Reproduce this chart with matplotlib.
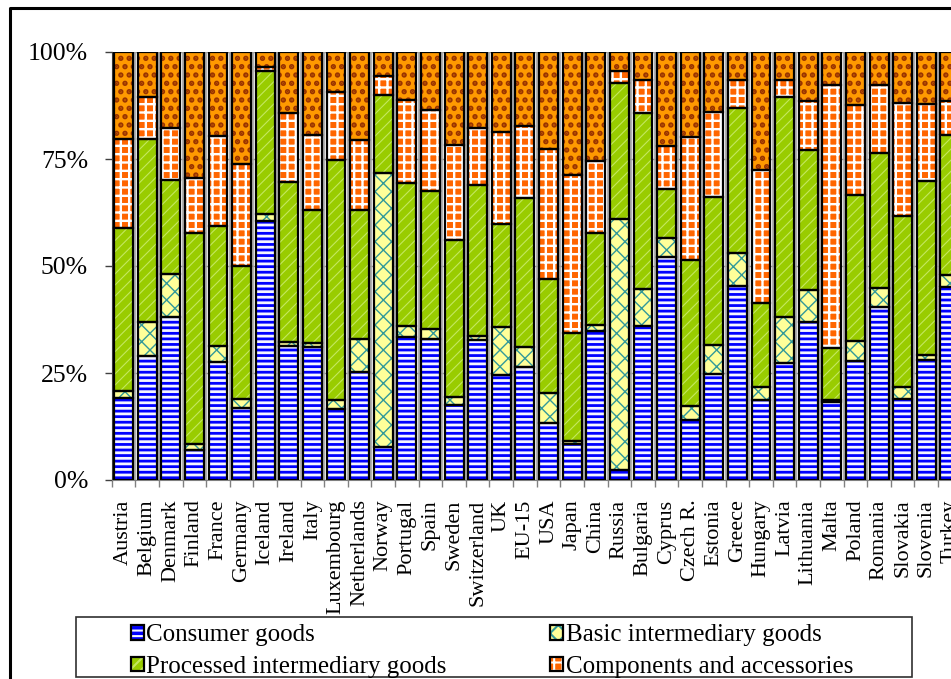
import matplotlib
matplotlib.use('Agg')
import matplotlib.pyplot as plt
from matplotlib.patches import Rectangle
from matplotlib.lines import Line2D
from matplotlib.legend_handler import HandlerTuple
import numpy as np

countries = ["Austria", "Belgium", "Denmark", "Finland", "France", "Germany",
             "Iceland", "Ireland", "Italy", "Luxembourg", "Netherlands", "Norway",
             "Portugal", "Spain", "Sweden", "Switzerland", "UK", "EU-15", "USA",
             "Japan", "China", "Russia", "Bulgaria", "Cyprus", "Czech R.", "Estonia",
             "Greece", "Hungary", "Latvia", "Lithuania", "Malta", "Poland",
             "Romania", "Slovakia", "Slovenia", "Turkey"]

consumer = [19.2, 28.9, 38.0, 6.9, 27.5, 16.8, 60.6, 31.4, 31.0, 16.6, 25.2, 7.6,
            33.5, 33.0, 17.6, 32.7, 24.6, 26.3, 13.3, 8.4, 34.7, 2.3, 35.9, 52.2,
            14.1, 24.8, 45.3, 18.8, 27.4, 36.9, 18.2, 27.9, 40.4, 18.9, 28.1, 45.1]
basic = [1.7, 8.0, 10.2, 1.5, 3.8, 2.1, 1.6, 0.9, 1.0, 2.0, 7.8, 64.2,
         2.4, 2.3, 1.9, 1.0, 11.1, 4.7, 7.0, 0.6, 1.5, 58.6, 8.8, 4.3,
         3.1, 6.8, 7.8, 2.9, 10.6, 7.4, 0.4, 4.5, 4.5, 2.8, 1.1, 2.7]
processed = [37.9, 42.8, 21.8, 49.3, 28.1, 31.1, 33.3, 37.3, 31.0, 56.2, 30.2, 18.1,
             33.5, 32.2, 36.5, 35.3, 24.2, 34.9, 26.7, 25.4, 21.6, 31.9, 41.1, 11.5,
             34.2, 34.5, 33.8, 19.7, 51.5, 32.7, 12.2, 34.2, 31.5, 40.0, 40.6, 32.9]
components = [20.8, 9.8, 12.3, 12.9, 21.0, 23.9, 1.0, 16.1, 17.7, 15.8, 16.3, 4.6,
              19.3, 18.9, 22.3, 13.3, 21.5, 16.8, 30.4, 36.8, 16.7, 2.8, 7.6, 10.0,
              28.7, 19.9, 6.6, 31.1, 3.9, 11.5, 61.6, 21.1, 16.0, 26.4, 18.1, 7.8]
capital = [20.4, 10.5, 17.7, 29.4, 19.6, 26.1, 3.5, 14.3, 19.3, 9.4, 20.5, 5.5,
           11.3, 13.6, 21.7, 17.7, 18.6, 17.3, 22.6, 28.8, 25.5, 4.4, 6.6, 22.0,
           19.9, 14.0, 6.5, 27.5, 6.6, 11.5, 7.6, 12.3, 7.6, 11.9, 12.1, 11.5]

series_labels = ["Consumer goods", "Basic intermediary goods",
                 "Processed intermediary goods", "Components and accessories",
                 "Capital goods"]
y_ticks = [0, 25, 50, 75, 100]
y_ticklabels = ["0%", "25%", "50%", "75%", "100%"]

plt.rcParams['font.family'] = ['Liberation Serif', 'DejaVu Serif']
plt.rcParams['hatch.linewidth'] = 1.5

styles = [
    dict(face='#0000FF', hatch='---', hcol='#F4F4FF', hlw=2.0),
    dict(face='#FFFF99', hatch='xx', hcol='#339999', hlw=1.0),
    dict(face='#99CC00', hatch='///', hcol='#C4E860', hlw=0.8),
    dict(face='#FF6600', hatch='++', hcol='#FFFFFF', hlw=1.7),
    dict(face='#FF9900', hatch='..', hcol='#993300', hlw=2.6),
]

fig = plt.figure(figsize=(9.51, 6.79), dpi=100)
ax = fig.add_axes([111.7 / 951, 1 - 480 / 679, 850 / 951, 428 / 679])

x = np.arange(len(countries))
bottom = np.zeros(len(countries))
handles = []
for vals, lab, st in zip([consumer, basic, processed, components, capital],
                         series_labels, styles):
    vals = np.array(vals)
    b1 = ax.bar(x, vals, 0.8, bottom=bottom, color=st['face'], hatch=st['hatch'],
                edgecolor=st['hcol'], linewidth=0, zorder=2)
    for p in b1:
        if hasattr(p, 'set_hatch_linewidth'):
            p.set_hatch_linewidth(st['hlw'])
    ax.bar(x, vals, 0.8, bottom=bottom, fill=False, edgecolor='black',
           linewidth=1.6, zorder=3)
    h1 = Rectangle((0, 0), 1, 1, facecolor=st['face'], hatch=st['hatch'],
                   edgecolor=st['hcol'], linewidth=0)
    if hasattr(h1, 'set_hatch_linewidth'):
        h1.set_hatch_linewidth(st['hlw'])
    h2 = Rectangle((0, 0), 1, 1, fill=False, edgecolor='black', linewidth=1.6)
    handles.append((h1, h2))
    bottom += vals

ax.set_xlim(-0.5, len(countries) - 0.5)
ax.set_ylim(0, 100)
ax.set_yticks(y_ticks)
ax.set_yticklabels(y_ticklabels, fontsize=18.5)
ax.set_xticks(x)
ax.set_xticklabels(countries, rotation=90, fontsize=16)
ax.set_xticks(np.arange(len(countries) + 1) - 0.5, minor=True)
ax.tick_params(axis='x', which='major', length=0, pad=14)
ax.tick_params(axis='x', which='minor', length=5, color='#808080', width=1)
ax.tick_params(axis='y', which='major', length=5, color='#404040', width=1, pad=12)
ax.grid(axis='y', which='major', color='#A0A0A0', linewidth=1, zorder=0)
ax.grid(axis='x', which='minor', color='#B0B0B0', linewidth=1.5, zorder=0)
ax.set_axisbelow(True)
for s in ['top', 'right']:
    ax.spines[s].set_visible(False)
ax.spines['left'].set_color('#404040')
ax.spines['bottom'].set_color('#808080')

# figure frame
fig.add_artist(Line2D([10 / 951, 10 / 951, 1.01], [-0.01, 1 - 8 / 679, 1 - 8 / 679],
                      transform=fig.transFigure, color='black', linewidth=2.2))

# legend box
fig.add_artist(Rectangle((76 / 951, 1 - 677 / 679), (912 - 76) / 951, 60 / 679,
                         transform=fig.transFigure, facecolor='white',
                         edgecolor='#303030', linewidth=1.2, zorder=1))

hmap = {tuple: HandlerTuple(ndivide=1, pad=0)}
common = dict(frameon=False, fontsize=18, handlelength=0.5, handleheight=0.5,
              handletextpad=0.12, labelspacing=0.38, borderpad=0, borderaxespad=0,
              handler_map=hmap, loc='center left')
leg1 = fig.legend([handles[0], handles[2]], [series_labels[0], series_labels[2]],
                  bbox_to_anchor=(131 / 951, 1 - 651 / 679), **common)
leg2 = fig.legend([handles[1], handles[3]], [series_labels[1], series_labels[3]],
                  bbox_to_anchor=(550 / 951, 1 - 651 / 679), **common)
leg1.set_zorder(5)
leg2.set_zorder(5)

fig.savefig('out.png', dpi=100)
